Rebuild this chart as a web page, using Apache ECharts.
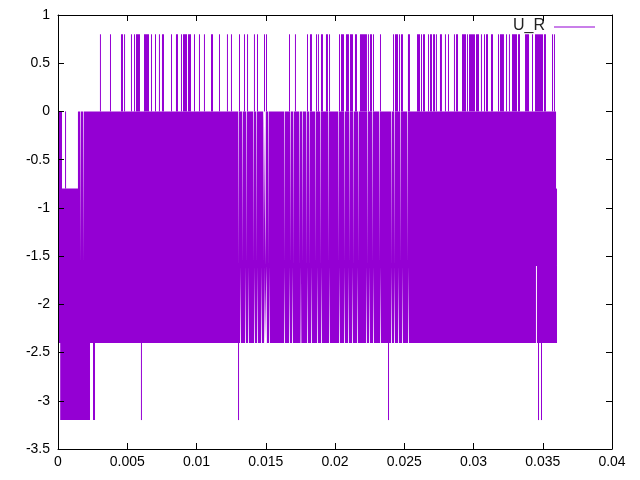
<!DOCTYPE html>
<html>
<head>
<meta charset="utf-8">
<style>html,body{margin:0;padding:0;background:#fff}#c{width:640px;height:480px}</style>
<script src="https://cdn.jsdelivr.net/npm/echarts@6/dist/echarts.min.js"></script>
</head>
<body>
<div id="c"></div>
<script>
// Times (s). Each pair: [start, end] of a stretch reaching the level.
const xTicks = { min: 0, max: 0.04, interval: 0.005 };
const yTicks = { min: -3.5, max: 1, interval: 0.5 };
const topLevel = 0.8;
const baseLevel = 0;
const floorLevel = -2.4;
const bottomLevel = -3.2;
const shelfLevel = -0.8;
const upperSteps = [[0,0],[0.00029,-0.8],[0.00144,0]];
const upperEnd = 0.03596;
const lowerSteps = [[0,-2.4],[0.00016,-3.2],[0.00231,-2.4]];
const lowerEnd = 0.03603;
const lowerHoles = [[0.03451,0.03458]];
const shelfSpikes = [[0.00051,0.00058]];
const endSpikes = [[0.03596,0.03603]];
const topSpikes = [
[0.00303,0.00310],[0.00375,0.00383],[0.00455,0.00469],[0.00477,0.00484],[0.00527,0.00534],[0.00549,0.00556],
[0.00563,0.00592],[0.00621,0.00657],[0.00671,0.00679],[0.00700,0.00708],[0.00729,0.00736],[0.00751,0.00765],
[0.00816,0.00823],[0.00852,0.00866],[0.00888,0.00895],[0.00903,0.00931],[0.00939,0.00960],[0.00982,0.00989],
[0.01018,0.01025],[0.01054,0.01061],[0.01105,0.01119],[0.01162,0.01170],[0.01220,0.01227],[0.01249,0.01256],
[0.01307,0.01314],[0.01343,0.01350],[0.01365,0.01372],[0.01415,0.01422],[0.01437,0.01444],[0.01487,0.01495],
[0.01502,0.01509],[0.01668,0.01675],[0.01711,0.01718],[0.01798,0.01805],[0.01819,0.01834],[0.01863,0.01870],
[0.01877,0.01884],[0.01899,0.01913],[0.01935,0.01949],[0.01957,0.01964],[0.02029,0.02036],[0.02043,0.02065],
[0.02079,0.02101],[0.02108,0.02130],[0.02144,0.02159],[0.02180,0.02231],[0.02238,0.02245],[0.02253,0.02267],
[0.02274,0.02282],[0.02325,0.02332],[0.02419,0.02426],[0.02433,0.02455],[0.02462,0.02469],[0.02476,0.02491],
[0.02527,0.02541],[0.02592,0.02614],[0.02621,0.02628],[0.02635,0.02650],[0.02671,0.02679],[0.02686,0.02700],
[0.02708,0.02722],[0.02729,0.02736],[0.02758,0.02772],[0.02794,0.02801],[0.02816,0.02823],[0.02859,0.02866],
[0.02874,0.02888],[0.02917,0.02946],[0.02953,0.02960],[0.02967,0.03011],[0.03018,0.03040],[0.03054,0.03061],
[0.03076,0.03083],[0.03090,0.03105],[0.03126,0.03141],[0.03177,0.03184],[0.03191,0.03220],[0.03235,0.03242],
[0.03256,0.03263],[0.03278,0.03314],[0.03321,0.03336],[0.03372,0.03401],[0.03422,0.03430],[0.03444,0.03502],
[0.03509,0.03523],[0.03567,0.03574],[0.03581,0.03588]
];
const bottomSpikes = [[0.00253,0.00267],[0.00599,0.00606],[0.01300,0.01307],[0.02383,0.02390],[0.03466,0.03473],[0.03487,0.03495]];
const upperGaps = [0.00162,0.00184,0.01303,0.01332,0.01361,0.01412,0.01433,0.01484,0.01498,0.01520,0.01635,0.01679,
0.01700,0.01744,0.01765,0.01794,0.01816,0.01859,0.01895,0.01953,0.02025,0.02069,0.02105,0.02134,0.02170,0.02235,
0.02271,0.02321,0.02408,0.02430,0.02473,0.02523];
const lowerGaps = [0.01318,0.01354,0.01375,0.01419,0.01440,0.01469,0.01491,0.01505,0.01527,0.01635,0.01671,0.01693,
0.01754,0.01801,0.01830,0.01874,0.01902,0.01960,0.02032,0.02069,0.02097,0.02126,0.02162,0.02227,0.02249,0.02278,
0.02328,0.02408,0.02430,0.02458,0.02487,0.02531];

const violet = '#9400d3';
const midLevel = -1.60253; // the two halves of the band meet here, on a pixel boundary
const pxPerUnit = 554 / 0.04; // plot width over x range, to give each vertical run its stroke width

function envelope(steps, endT, gaps, gapHalf, holes) {
  const levelAt = t => { let v = steps[0][1]; for (const s of steps) if (s[0] <= t) v = s[1]; return v; };
  const ev = [
    ...steps.map(s => ({ t: s[0], k: 0 })),
    ...gaps.map(t => ({ t, k: 1 })),
    ...holes.map(h => ({ t: h[0], k: 2, h }))
  ].sort((a, b) => a.t - b.t);
  const pts = [];
  for (const e of ev) {
    if (e.k === 0) {
      if (e.t > 0) pts.push([e.t, levelAt(e.t - 1e-7)]);
      pts.push([e.t, levelAt(e.t)]);
    } else if (e.k === 1) {
      const l = levelAt(e.t);
      pts.push([e.t - gapHalf, l], [e.t, midLevel], [e.t + gapHalf, l]);
    } else {
      const l = levelAt(e.t);
      pts.push([e.h[0], l], [null, null], [e.h[1], l]);
    }
  }
  pts.push([endT, levelAt(endT)]);
  return pts;
}

function bandSeries(data) {
  return {
    name: 'U_R', type: 'line', data, showSymbol: false, symbol: 'none', animation: false, silent: true, z: 2,
    lineStyle: { width: 0, color: violet }, itemStyle: { color: violet },
    areaStyle: { color: violet, opacity: 1, origin: midLevel }
  };
}

// Vertical runs, grouped by width so that each group is one line series.
function strokeSeries() {
  const groups = new Map();
  const add = (pairs, from, to) => pairs.forEach(([a, b]) => {
    const w = Math.max(1, Math.round((b - a) * pxPerUnit));
    if (!groups.has(w)) groups.set(w, []);
    const m = (a + b) / 2;
    groups.get(w).push([m, from], [m, to], [null, null]);
  });
  add(topSpikes, baseLevel, topLevel);
  add(bottomSpikes, floorLevel, bottomLevel);
  add(shelfSpikes, shelfLevel, baseLevel);
  add(endSpikes, midLevel, shelfLevel);
  return [...groups].map(([w, data]) => ({
    name: 'U_R', type: 'line', data, showSymbol: false, symbol: 'none', animation: false, silent: true, z: 2,
    lineStyle: { width: w, color: violet, cap: 'butt' }, itemStyle: { color: violet }
  }));
}

const upperData = envelope(upperSteps, upperEnd, upperGaps, 0.000025, []);
const lowerData = envelope(lowerSteps, lowerEnd, lowerGaps, 0.000032, lowerHoles);

const font = { fontFamily: '"Liberation Sans"', fontSize: 14, color: '#000' };
const line = { show: true, onZero: false, lineStyle: { color: '#000', width: 1 } };
const tick = { show: true, inside: true, length: 6, lineStyle: { color: '#000', width: 1 } };

const chart = echarts.init(document.getElementById('c'), null, { renderer: 'canvas' });
chart.setOption({
  animation: false,
  backgroundColor: '#fff',
  grid: { left: 58, top: 15, width: 554, height: 434 },
  legend: {
    data: ['U_R'], right: 45, top: 18, icon: 'rect', itemWidth: 41, itemHeight: 1, itemGap: 0,
    align: 'right', padding: 0,
    itemStyle: { color: violet, borderWidth: 0 }, lineStyle: { width: 0 },
    formatter: name => '{a|' + name + '}',
    textStyle: {
      rich: { a: { fontFamily: '"Liberation Sans"', fontSize: 16, color: '#222', lineHeight: 17, padding: [0, 4, 2, 0] } }
    }
  },
  xAxis: [
    { type: 'value', position: 'bottom', ...xTicks, z: 5, axisLine: line, axisTick: tick,
      axisLabel: { ...font, margin: 6, showMinLabel: true, showMaxLabel: true }, splitLine: { show: false } },
    { type: 'value', position: 'top', ...xTicks, z: 5, axisLine: line, axisTick: tick,
      axisLabel: { show: false }, splitLine: { show: false } }
  ],
  yAxis: [
    { type: 'value', position: 'left', ...yTicks, z: 5, axisLine: line, axisTick: tick,
      axisLabel: { ...font, margin: 8, showMinLabel: true, showMaxLabel: true }, splitLine: { show: false } },
    { type: 'value', position: 'right', ...yTicks, z: 5, axisLine: line, axisTick: tick,
      axisLabel: { show: false }, splitLine: { show: false } }
  ],
  series: [bandSeries(upperData), bandSeries(lowerData), ...strokeSeries()]
});
</script>
</body>
</html>
